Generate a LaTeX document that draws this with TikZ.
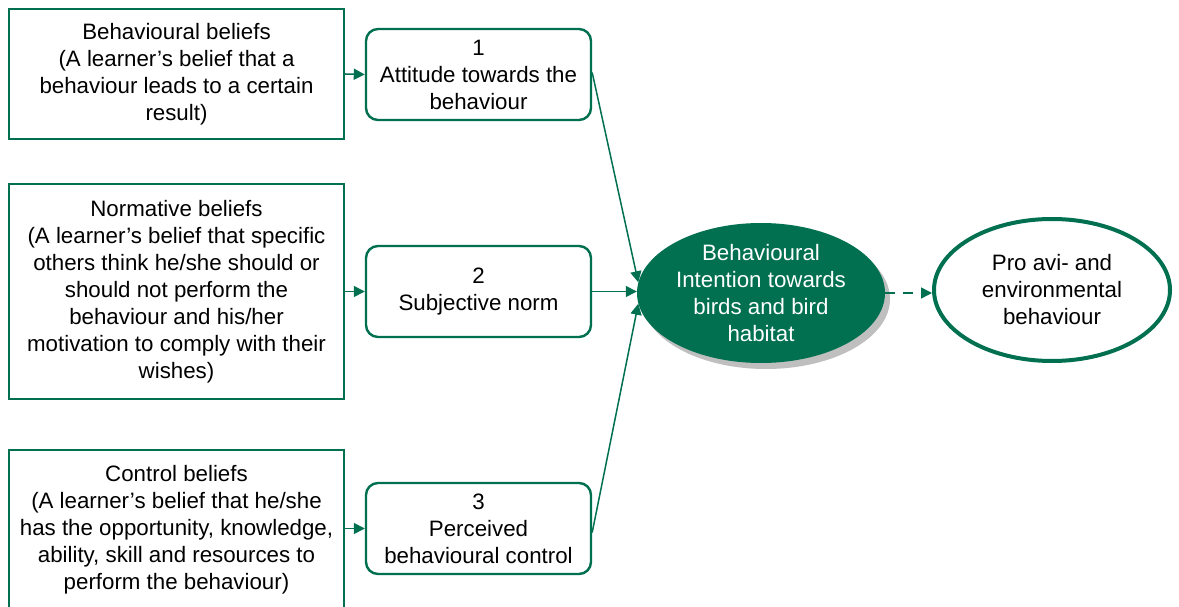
\documentclass[tikz,border=0pt]{standalone}
\usepackage{fontspec}
\setmainfont{Liberation Sans}
\usetikzlibrary{shapes.geometric,arrows.meta,shadows}
\definecolor{tpbgreen}{RGB}{0,112,80}
\begin{document}
\begin{tikzpicture}[x=1pt,y=-1pt,
  every node/.style={font=\fontsize{22.3}{27}\selectfont, align=center, inner sep=0pt},
  beliefbox/.style={draw=tpbgreen, line width=2.4pt, minimum width=335pt},
  factorbox/.style={draw=tpbgreen, line width=2.4pt, rounded corners=12pt,
    minimum width=225pt, minimum height=91pt},
  link/.style={draw=tpbgreen, line width=1.5pt, -{Triangle[length=11pt,width=11pt]}},
]
\useasboundingbox (0,0) rectangle (1179,607);
\clip (0,0) rectangle (1179,607);
\fill[white] (0,0) rectangle (1179,607);

% belief boxes
\node[beliefbox, minimum height=130pt] (bb) at (176.5,74)
  {Behavioural beliefs\\(A learner’s belief that a\\behaviour leads to a certain\\result)};
\node[beliefbox, minimum height=215pt] (nb) at (176.5,291.5)
  {Normative beliefs\\(A learner’s belief that specific\\others think he/she should or\\should not perform the\\behaviour and his/her\\motivation to comply with their\\wishes)};
\node[beliefbox, minimum height=160pt, anchor=north] (cb) at (176.5,449)
  {Control beliefs\\(A learner’s belief that he/she\\has the opportunity, knowledge,\\ability, skill and resources to\\perform the behaviour)};

% the three determinants
\node[factorbox] (att) at (478.5,74.5) {1\\Attitude towards the\\behaviour};
\node[factorbox] (sn) at (478.5,291.5) {2\\Subjective norm};
\node[factorbox] (pbc) at (478.5,528.5) {3\\Perceived\\behavioural control};

% intention and behaviour
\node[ellipse, fill=tpbgreen, text=white, minimum width=248pt, minimum height=140pt,
  drop shadow={shadow xshift=5pt, shadow yshift=-6pt, fill=black!25, opacity=1}]
  (bi) at (761,293) {Behavioural\\Intention towards\\birds and bird\\habitat};
\node[ellipse, draw=tpbgreen, line width=4pt, fill=white, minimum width=236pt, minimum height=142pt]
  (pb) at (1052,290) {Pro avi- and\\environmental\\behaviour};

% connectors
\draw[link] (bb.east) -- (att.west);
\draw[link] (nb.east) -- (sn.west);
\draw[link] (cb.east |- pbc.west) -- (pbc.west);
\draw[link] ([yshift=2pt]att.east) -- (bi.175);
\draw[link] (sn.east) -- (sn.east -| bi.west);
\draw[link] ([yshift=-4pt]pbc.east) -- (bi.185);
\draw[link, dash pattern=on 10pt off 8pt] (bi.east) -- (bi.east -| pb.west);
\end{tikzpicture}
\end{document}
